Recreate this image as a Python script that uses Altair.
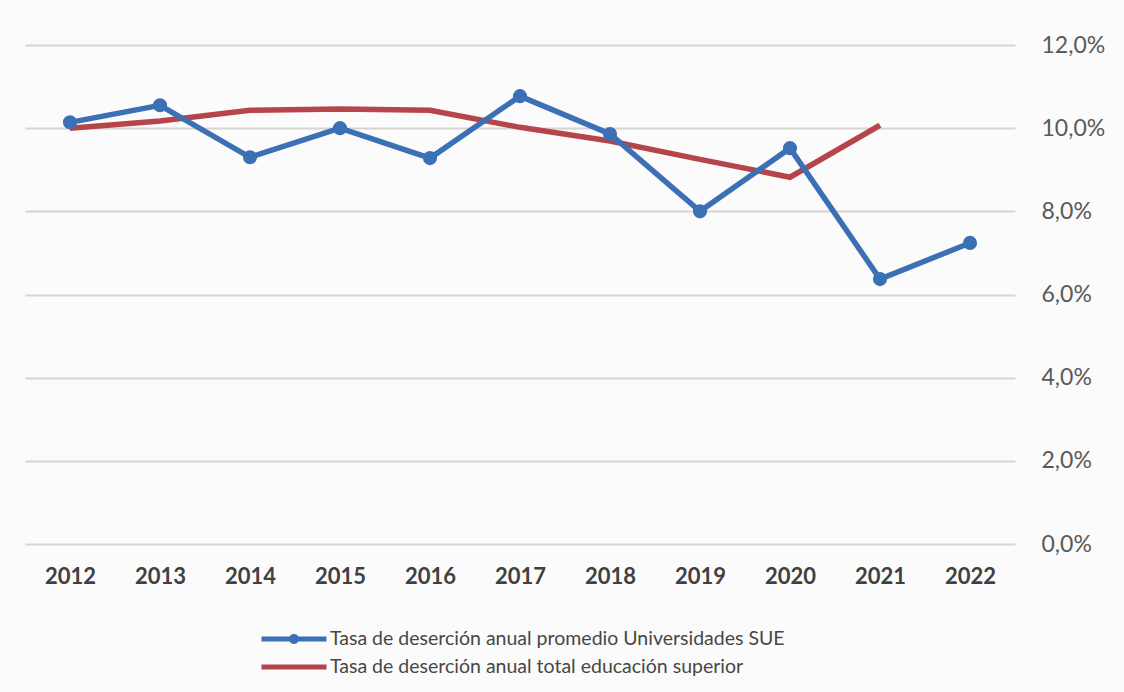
import altair as alt
import pandas as pd

years = ["2012", "2013", "2014", "2015", "2016", "2017", "2018", "2019", "2020", "2021", "2022"]
sue = [0.1014, 0.1055, 0.0930, 0.1000, 0.0928, 0.1077, 0.0986, 0.0800, 0.0952, 0.0637, 0.0724]
total_years = ["2012", "2013", "2014", "2015", "2016", "2017", "2018", "2019", "2020", "2021"]
total = [0.1000, 0.1017, 0.1043, 0.1046, 0.1043, 0.1002, 0.0969, 0.0925, 0.0882, 0.1007]

s_sue = "Tasa de deserción anual promedio Universidades SUE"
s_tot = "Tasa de deserción anual total educación superior"

BLUE = "#3B71B4"
RED = "#B5454A"

df = pd.DataFrame(
    [{"year": y, "v": v, "serie": s_sue} for y, v in zip(years, sue)]
    + [{"year": y, "v": v, "serie": s_tot} for y, v in zip(total_years, total)]
)

FONT = "Lato, Liberation Sans, sans-serif"
BAR_PATH = "M-3.25,-0.25H3.25V0.25H-3.25Z"
DOT_PATH = BAR_PATH + "M0.5,0A0.5,0.5,0,1,1,-0.5,0A0.5,0.5,0,1,1,0.5,0Z"

color_scale = alt.Scale(domain=[s_sue, s_tot], range=[BLUE, RED])
legend = alt.Legend(
    title=None,
    orient="none",
    legendX=259,
    legendY=584,
    padding=0,
    symbolSize=400,
    symbolStrokeWidth=0,
    symbolOpacity=1,
    labelFont=FONT,
    labelFontSize=19.5,
    labelColor="#474747",
    labelOffset=26,
    labelLimit=800,
    rowPadding=8,
)

x = alt.X(
    "year:O",
    sort=years,
    title=None,
    scale=alt.Scale(domain=years),
    axis=alt.Axis(
        labelAngle=0,
        labelFont=FONT,
        labelFontSize=22,
        labelFontWeight="bold",
        labelColor="#404040",
        labelPadding=22,
        domain=False,
        ticks=False,
        grid=False,
    ),
)
y = alt.Y(
    "v:Q",
    title=None,
    scale=alt.Scale(domain=[0, 0.12]),
    axis=alt.Axis(
        orient="right",
        values=[0, 0.02, 0.04, 0.06, 0.08, 0.10, 0.12],
        labelExpr="replace(format(datum.value, '.1%'), '.', ',')",
        labelFont=FONT,
        labelFontSize=23,
        labelColor="#595959",
        labelPadding=26,
        domain=False,
        ticks=False,
        grid=True,
        gridColor="#d9d4d2",
        gridWidth=2,
    ),
)

color_nolegend = alt.Color("serie:N", scale=color_scale, legend=None)

base = alt.Chart(df)
red = base.transform_filter(alt.datum.serie == s_tot).mark_line(strokeWidth=5.5).encode(x=x, y=y, color=color_nolegend)
blue = base.transform_filter(alt.datum.serie == s_sue).mark_line(strokeWidth=5.5).encode(x=x, y=y, color=color_nolegend)
pts = base.transform_filter(alt.datum.serie == s_sue).mark_point(
    filled=True, size=200, opacity=1, shape="circle"
).encode(x=x, y=y, color=color_nolegend)
legend_layer = base.mark_point(filled=True, opacity=0).encode(
    x=x,
    y=y,
    color=alt.Color("serie:N", scale=color_scale, legend=legend),
    shape=alt.Shape("serie:N", scale=alt.Scale(domain=[s_sue, s_tot], range=[DOT_PATH, BAR_PATH]), legend=legend),
)

chart = (
    alt.layer(red, blue, pts, legend_layer)
    .resolve_legend(color="independent", shape="independent")
    .properties(
        width=990,
        height=499,
        autosize=alt.AutoSizeParams(type="none"),
        padding={"left": 25, "top": 45, "right": 109, "bottom": 148},
        background="#fbfbfb",
    )
    .configure_view(stroke=None)
)

chart.save("out.html", embed_options={"renderer": "svg", "actions": False})
